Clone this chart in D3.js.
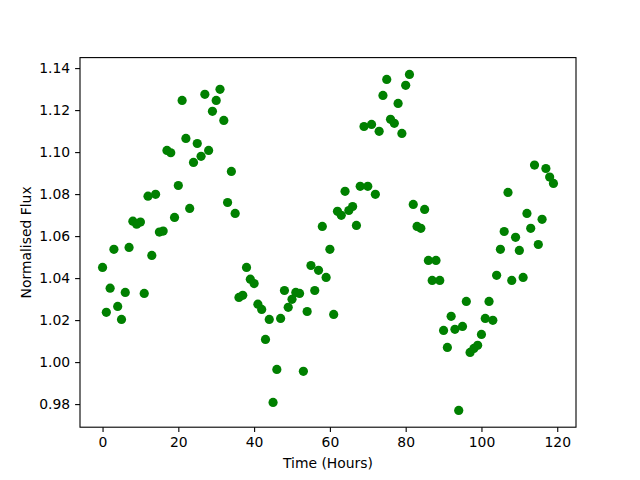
<!DOCTYPE html>
<html>
<head>
<meta charset="utf-8">
<script src="https://cdn.jsdelivr.net/npm/d3@7"></script>
<style>
  body { margin: 0; background: #fff; }
  text { font-family: "DejaVu Sans", sans-serif; fill: #000; }
  .axis text { font-size: 13.9px; }
  .axis path, .axis line { stroke: #000; stroke-width: 1.1px; }
  .axis-label { font-size: 13.9px; }
</style>
</head>
<body>
<div id="vis"></div>
<script>
// hours, one reading per hour
var hours = d3.range(0, 120);

var flux = [
  1.0451, 1.0237, 1.0352, 1.0537, 1.0265, 1.0203, 1.0332, 1.0546, 1.0671, 1.0657,
  1.0667, 1.0327, 1.0790, 1.0508, 1.0799, 1.0619, 1.0624, 1.1008, 1.0997, 1.0689,
  1.0841, 1.1246, 1.1065, 1.0732, 1.0951, 1.1041, 1.0980, 1.1275, 1.1008, 1.1194,
  1.1246, 1.1299, 1.1151, 1.0760, 1.0908, 1.0708, 1.0308, 1.0318, 1.0451, 1.0395,
  1.0374, 1.0276, 1.0251, 1.0108, 1.0203, 0.9808, 0.9965, 1.0208, 1.0341, 1.0261,
  1.0299, 1.0332, 1.0327, 0.9956, 1.0241, 1.0460, 1.0341, 1.0437, 1.0646, 1.0403,
  1.0537, 1.0227, 1.0718, 1.0699, 1.0813, 1.0722, 1.0741, 1.0651, 1.0837, 1.1122,
  1.0837, 1.1132, 1.0799, 1.1099, 1.1270, 1.1346, 1.1156, 1.1137, 1.1232, 1.1089,
  1.1318, 1.1370, 1.0751, 1.0646, 1.0637, 1.0727, 1.0484, 1.0389, 1.0484, 1.0389,
  1.0151, 1.0070, 1.0218, 1.0156, 0.9770, 1.0170, 1.0289, 1.0046, 1.0065, 1.0080,
  1.0132, 1.0208, 1.0289, 1.0199, 1.0413, 1.0537, 1.0622, 1.0808, 1.0389, 1.0594,
  1.0532, 1.0403, 1.0708, 1.0637, 1.0938, 1.0560, 1.0680, 1.0922, 1.0881, 1.0851
];

var xTicks = [0, 20, 40, 60, 80, 100, 120];
var yTicks = [0.98, 1.00, 1.02, 1.04, 1.06, 1.08, 1.10, 1.12, 1.14];

var width = 640;
var height = 480;
var margin = { top: 57.6, right: 64, bottom: 52.8, left: 80 };
var drawWidth = width - margin.left - margin.right;
var drawHeight = height - margin.top - margin.bottom;

var data = hours.map(function(h, i) { return { t: h, f: flux[i] }; });

// matplotlib style 5% padding
var xExt = d3.extent(hours);
var xPad = (xExt[1] - xExt[0]) * 0.05;
var yExt = d3.extent(flux);
var yPad = (yExt[1] - yExt[0]) * 0.05;

var xScale = d3.scaleLinear()
               .domain([xExt[0] - xPad, xExt[1] + xPad])
               .range([0, drawWidth]);
var yScale = d3.scaleLinear()
               .domain([yExt[0] - yPad, yExt[1] + yPad])
               .range([drawHeight, 0]);

var svg = d3.select('#vis')
            .append('svg')
            .attr('width', width)
            .attr('height', height);

var g = svg.append('g')
           .attr('transform', 'translate(' + margin.left + ', ' + margin.top + ')');

g.selectAll('circle')
 .data(data)
 .enter()
 .append('circle')
 .attr('cx', function(d) { return xScale(d.t); })
 .attr('cy', function(d) { return yScale(d.f); })
 .attr('r', 4.6)
 .attr('fill', '#008000');

var xAxis = d3.axisBottom(xScale)
              .tickValues(xTicks)
              .tickSize(4.9)
              .tickPadding(4.9)
              .tickSizeOuter(0);
var yAxis = d3.axisLeft(yScale)
              .tickValues(yTicks)
              .tickFormat(d3.format('.2f'))
              .tickSize(4.9)
              .tickPadding(4.9)
              .tickSizeOuter(0);

g.append('g')
 .attr('class', 'axis')
 .attr('transform', 'translate(0, ' + drawHeight + ')')
 .call(xAxis)
 .call(function(s) { s.select('.domain').remove(); });

g.append('g')
 .attr('class', 'axis')
 .call(yAxis)
 .call(function(s) { s.select('.domain').remove(); });

g.selectAll('.axis text').attr('fill', '#000');

// frame
g.append('rect')
 .attr('x', 0)
 .attr('y', 0)
 .attr('width', drawWidth)
 .attr('height', drawHeight)
 .attr('fill', 'none')
 .attr('stroke', '#000')
 .attr('stroke-width', 1.1);

svg.append('text')
   .attr('class', 'axis-label')
   .attr('text-anchor', 'middle')
   .attr('x', margin.left + drawWidth / 2)
   .attr('y', 468)
   .text('Time (Hours)');

svg.append('text')
   .attr('class', 'axis-label')
   .attr('text-anchor', 'middle')
   .attr('transform', 'translate(31, ' + (margin.top + drawHeight / 2) + ') rotate(-90)')
   .text('Normalised Flux');
</script>
</body>
</html>
